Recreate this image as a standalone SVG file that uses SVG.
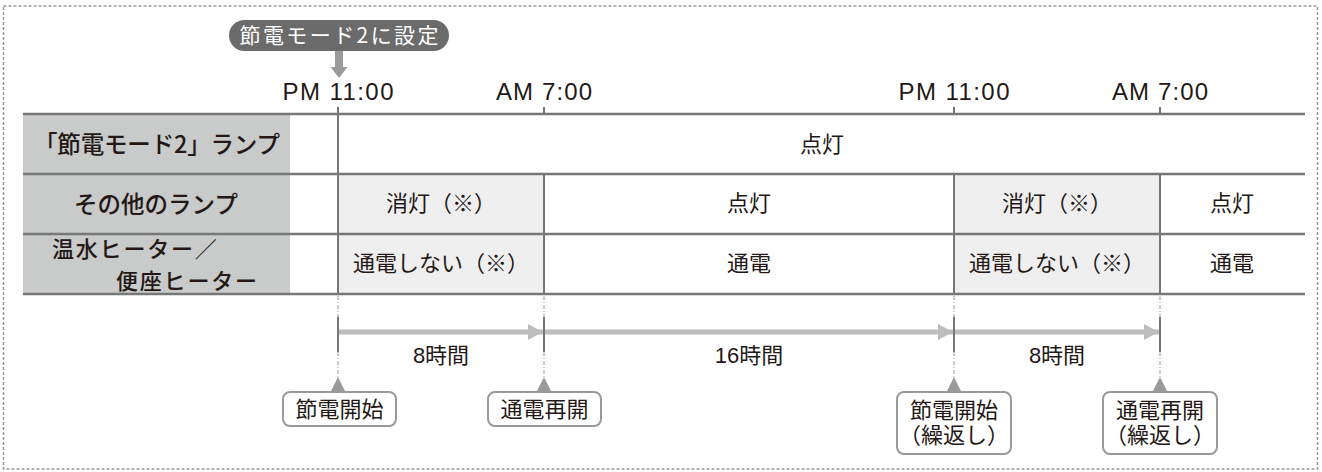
<svg xmlns="http://www.w3.org/2000/svg" width="1322" height="472" viewBox="0 0 1322 472">
<style>
.t{font-family:"Liberation Sans","Noto Sans CJK JP",sans-serif;fill:#231815;font-size:22px;}
.j{font-family:"Noto Sans CJK JP",sans-serif;font-weight:500;}
.m{text-anchor:middle;}
.h{font-size:23.5px;}
.h2{font-size:22px;letter-spacing:1.8px;}
.tm{font-size:24px;}
.grid{stroke:#777;stroke-width:2.5;fill:none;}
.vl{stroke:#777;stroke-width:2;fill:none;}
.dd{stroke:#bdbdbd;stroke-width:1.5;stroke-dasharray:4 2 1 2;fill:none;}
.bar{stroke:#bdbdbd;stroke-width:5;fill:none;}
.box{fill:#fff;stroke:#9a9a9a;stroke-width:2;}
.tri{fill:#9a9a9a;}
</style>
<defs>
<marker id="ah" markerWidth="3" markerHeight="3.2" refX="3" refY="1.6" orient="auto" markerUnits="strokeWidth">
<path d="M0,0 L3,1.6 L0,3.2 Z" fill="#bdbdbd"/>
</marker>
</defs>
<rect x="3.5" y="6" width="1314" height="463" fill="none" stroke="#999" stroke-width="1.5" stroke-dasharray="3 2"/>

<g id="callout">
<rect x="229" y="20" width="220" height="31" rx="15.5" fill="#6b6b6b"/>
<text class="t m" x="339" y="43" style="fill:#fff;font-size:21px;font-family:'Noto Sans CJK JP',sans-serif" textLength="199" lengthAdjust="spacing">節電モード2に設定</text>
<path d="M335,51 H343 V67 H347.5 L339,78 L330.5,67 H335 Z" fill="#9a9a9a"/>
</g>

<g id="time-labels">
<text class="t m tm" x="338" y="100" textLength="111" lengthAdjust="spacing">PM 11:00</text>
<text class="t m tm" x="544" y="100" textLength="96" lengthAdjust="spacing">AM 7:00</text>
<text class="t m tm" x="954" y="100" textLength="111" lengthAdjust="spacing">PM 11:00</text>
<text class="t m tm" x="1160" y="100" textLength="96" lengthAdjust="spacing">AM 7:00</text>
</g>

<g id="table">
<rect x="23" y="114" width="267" height="180" fill="#c9caca"/>
<rect x="338" y="174" width="206" height="120" fill="#efefef"/>
<rect x="954" y="174" width="206" height="120" fill="#efefef"/>
<line class="grid" x1="23" y1="114" x2="1305" y2="114"/>
<line class="grid" x1="23" y1="174" x2="1305" y2="174"/>
<line class="grid" x1="23" y1="234" x2="1305" y2="234"/>
<line class="grid" x1="23" y1="294" x2="1305" y2="294"/>
<line class="vl" x1="338" y1="107" x2="338" y2="294"/>
<line class="vl" x1="544" y1="107" x2="544" y2="114"/>
<line class="vl" x1="954" y1="107" x2="954" y2="114"/>
<line class="vl" x1="1160" y1="107" x2="1160" y2="114"/>
<line class="vl" x1="544" y1="174" x2="544" y2="294"/>
<line class="vl" x1="954" y1="174" x2="954" y2="294"/>
<line class="vl" x1="1160" y1="174" x2="1160" y2="294"/>
</g>

<g id="row-headers">
<text class="t m j h" x="157" y="153" textLength="246" lengthAdjust="spacing">「節電モード2」ランプ</text>
<text class="t m j h" x="156" y="213">その他のランプ</text>
<text class="t j h2" x="52" y="256.5">温水ヒーター／</text>
<text class="t j h2" x="116" y="288.5">便座ヒーター</text>
</g>

<g id="row1">
<text class="t m" x="822" y="152">点灯</text>
</g>
<g id="row2">
<text class="t m" x="441" y="211">消灯（※）</text>
<text class="t m" x="749" y="211">点灯</text>
<text class="t m" x="1057" y="211">消灯（※）</text>
<text class="t m" x="1232" y="211">点灯</text>
</g>
<g id="row3">
<text class="t m" x="441" y="271">通電しない（※）</text>
<text class="t m" x="749" y="271">通電</text>
<text class="t m" x="1057" y="271">通電しない（※）</text>
<text class="t m" x="1232" y="271">通電</text>
</g>

<g id="connectors">
<line class="dd" x1="338" y1="296" x2="338" y2="317"/>
<line class="dd" x1="544" y1="296" x2="544" y2="317"/>
<line class="dd" x1="954" y1="296" x2="954" y2="317"/>
<line class="dd" x1="1160" y1="296" x2="1160" y2="317"/>
<line class="vl" x1="338" y1="317" x2="338" y2="352"/>
<line class="vl" x1="544" y1="317" x2="544" y2="352"/>
<line class="vl" x1="954" y1="317" x2="954" y2="352"/>
<line class="vl" x1="1160" y1="317" x2="1160" y2="352"/>
<line class="dd" x1="338" y1="352" x2="338" y2="378"/>
<line class="dd" x1="544" y1="352" x2="544" y2="378"/>
<line class="dd" x1="954" y1="352" x2="954" y2="378"/>
<line class="dd" x1="1160" y1="352" x2="1160" y2="378"/>
<line class="bar" x1="339" y1="332" x2="543" y2="332" marker-end="url(#ah)"/>
<line class="bar" x1="545" y1="332" x2="953" y2="332" marker-end="url(#ah)"/>
<line class="bar" x1="955" y1="332" x2="1159" y2="332" marker-end="url(#ah)"/>
<path class="tri" d="M338,377 L345.5,392 L330.5,392 Z"/>
<path class="tri" d="M544,377 L551.5,392 L536.5,392 Z"/>
<path class="tri" d="M954,377 L961.5,392 L946.5,392 Z"/>
<path class="tri" d="M1160,377 L1167.5,392 L1152.5,392 Z"/>
</g>

<g id="durations">
<text class="t m" x="441" y="363">8時間</text>
<text class="t m" x="749" y="363">16時間</text>
<text class="t m" x="1057" y="363">8時間</text>
</g>

<g id="box-start">
<rect class="box" x="283" y="392" width="113" height="34" rx="7"/>
<text class="t m" x="339.5" y="417">節電開始</text>
</g>
<g id="box-resume">
<rect class="box" x="488" y="392" width="113" height="34" rx="7"/>
<text class="t m" x="544.5" y="417">通電再開</text>
</g>
<g id="box-start-repeat">
<rect class="box" x="897" y="392" width="114" height="62" rx="7"/>
<text class="t m"><tspan x="954" y="418">節電開始</tspan><tspan x="954" y="443">（繰返し）</tspan></text>
</g>
<g id="box-resume-repeat">
<rect class="box" x="1103" y="392" width="114" height="62" rx="7"/>
<text class="t m"><tspan x="1160" y="418">通電再開</tspan><tspan x="1160" y="443">（繰返し）</tspan></text>
</g>
</svg>
